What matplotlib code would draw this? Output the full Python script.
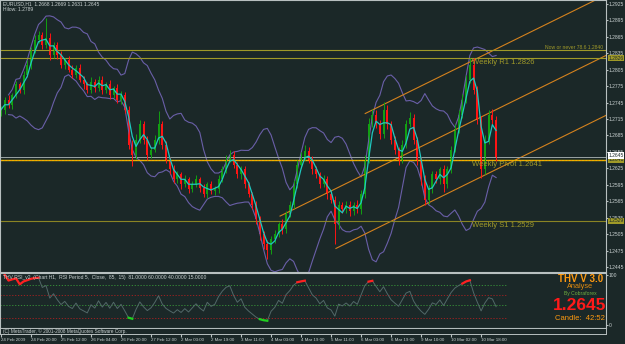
import numpy as np
import pandas as pd
import matplotlib
matplotlib.use("Agg")
import matplotlib.pyplot as plt

W, H = 625, 344

# EURUSD closes, 2-hour steps
closes = [1.2732, 1.2750, 1.2741, 1.2759, 1.2778, 1.2768, 1.2796, 1.2814, 1.2841, 1.2859,
          1.2868, 1.2850, 1.2863, 1.2832, 1.2850, 1.2832, 1.2814, 1.2823, 1.2805, 1.2796,
          1.2808, 1.2787, 1.2778, 1.2768, 1.2783, 1.2772, 1.2787, 1.2768, 1.2778, 1.2759,
          1.2772, 1.2750, 1.2759, 1.2732, 1.2668, 1.2650, 1.2677, 1.2705, 1.2677, 1.2650,
          1.2659, 1.2677, 1.2705, 1.2668, 1.2641, 1.2623, 1.2605, 1.2614, 1.2596, 1.2605,
          1.2587, 1.2596, 1.2605, 1.2590, 1.2578, 1.2596, 1.2583, 1.2587, 1.2605, 1.2623,
          1.2641, 1.2650, 1.2632, 1.2614, 1.2623, 1.2596, 1.2578, 1.2559, 1.2532, 1.2505,
          1.2487, 1.2477, 1.2496, 1.2505, 1.2523, 1.2514, 1.2541, 1.2559, 1.2596, 1.2632,
          1.2645, 1.2656, 1.2641, 1.2623, 1.2614, 1.2596, 1.2605, 1.2578, 1.2568, 1.2523,
          1.2559, 1.2550, 1.2559, 1.2547, 1.2559, 1.2550, 1.2578, 1.2641, 1.2705, 1.2723,
          1.2705, 1.2687, 1.2732, 1.2705, 1.2677, 1.2659, 1.2641, 1.2668, 1.2705, 1.2717,
          1.2677, 1.2641, 1.2605, 1.2568, 1.2587, 1.2614, 1.2605, 1.2623, 1.2596, 1.2623,
          1.2659, 1.2696, 1.2723, 1.2750, 1.2787, 1.2814, 1.2768, 1.2714, 1.2623, 1.2677,
          1.2723, 1.2714, 1.2645]
first_open = 1.2725

# wick lengths in pips
wick_up = [6, 5, 8, 4, 7, 5, 6, 8, 5, 9,
           7, 6, 37, 8, 6, 5, 7, 4, 6, 8,
           5, 7, 6, 4, 8, 5, 6, 7, 5, 8,
           4, 6, 7, 5, 6, 8, 10, 9, 6, 7,
           5, 8, 25, 6, 7, 5, 8, 6, 4, 7,
           5, 6, 8, 5, 7, 4, 6, 5, 7, 6,
           8, 9, 6, 5, 7, 6, 5, 4, 6, 7,
           5, 8, 6, 7, 5, 9, 6, 7, 8, 9,
           10, 12, 8, 6, 7, 5, 8, 6, 5, 7,
           6, 5, 7, 6, 5, 8, 7, 9, 12, 10,
           8, 9, 14, 8, 6, 7, 5, 8, 9, 11,
           7, 6, 5, 7, 8, 6, 7, 5, 8, 6,
           7, 9, 8, 10, 9, 12, 12, 8, 6, 9,
           8, 10, 7]
wick_dn = [5, 7, 6, 8, 5, 6, 7, 5, 8, 6,
           5, 7, 6, 9, 5, 8, 6, 7, 5, 6,
           7, 5, 8, 6, 5, 7, 6, 8, 5, 7,
           6, 5, 8, 6, 7, 20, 8, 6, 7, 9,
           6, 5, 7, 8, 6, 9, 7, 6, 8, 5,
           7, 6, 5, 8, 6, 7, 5, 6, 7, 5,
           6, 5, 7, 6, 8, 7, 6, 9, 8, 10,
           9, 17, 8, 7, 6, 8, 7, 5, 6, 7,
           6, 5, 7, 8, 6, 7, 5, 8, 6, 36,
           8, 7, 6, 9, 7, 6, 8, 7, 6, 5,
           7, 8, 6, 9, 7, 8, 10, 7, 6, 5,
           8, 9, 10, 9, 8, 7, 6, 9, 14, 7,
           6, 5, 7, 6, 5, 6, 8, 9, 15, 8,
           7, 9, 6]

time_labels = ["24 Feb 2009", "24 Feb 20:00", "25 Feb 12:00", "26 Feb 04:00", "26 Feb 20:00",
               "27 Feb 12:00", "2 Mar 03:00", "2 Mar 19:00", "3 Mar 11:00", "4 Mar 03:00",
               "4 Mar 19:00", "5 Mar 11:00", "6 Mar 03:00", "6 Mar 19:00", "9 Mar 10:00",
               "10 Mar 02:00", "10 Mar 18:00"]

level_names = ["Weekly R1", "Weekly Pivot", "Weekly S1"]
level_prices = [1.2826, 1.2641, 1.2529]
fib_price = 1.2840
last_price = 1.2645

# channel lines: start bar, start price, shared slope per bar
chan_start_bar = [97.1, 74.4, 89.3]
chan_start_price = [1.2725, 1.2538, 1.2479]
chan_slope = 0.000337

rsi_levels = [81, 60, 40, 15]
rsi_level_cols = ["#3a9a3a", "#b02020", "#3a9a3a", "#b02020"]

BG = "#1b2828"
FRAME = "#b8c0c0"
TXT = "#c8d0d0"
OLIVE = "#a09a28"
ORANGE = "#d4821e"


def px_rect(x0, y0, x1, y1):
    return [x0 / W, 1 - y1 / H, (x1 - x0) / W, (y1 - y0) / H]


n = len(closes)
x = np.arange(n)
c = np.array(closes)
o = np.array([first_open] + closes[:-1])
hi = np.maximum(o, c) + np.array(wick_up) * 0.0001
lo = np.minimum(o, c) - np.array(wick_dn) * 0.0001
cols = np.where(c >= o, "#12a012", "#ff1414")

s = pd.Series(closes)
ma = s.rolling(3, min_periods=1).mean()
mid = s.rolling(12, min_periods=3).mean()
sd = s.rolling(12, min_periods=3).std()
bb_up = mid + 2 * sd
bb_dn = mid - 2 * sd

d = s.diff()
gain = d.clip(lower=0).ewm(alpha=1 / 5, adjust=False).mean()
loss = (-d.clip(upper=0)).ewm(alpha=1 / 5, adjust=False).mean()
rsi = 100 - 100 / (1 + gain / loss)

fig = plt.figure(figsize=(W / 100, H / 100), dpi=100)
fig.patch.set_facecolor(BG)
plt.rcParams['font.family'] = ['Liberation Sans', 'DejaVu Sans']

XL = (-0.27, 161.3)

# ---- main price window
ax = fig.add_axes(px_rect(0, 0, 606, 272))
ax.set_facecolor(BG)
ax.set_xlim(*XL)
ax.set_ylim(1.2436, 1.2932)

ax.plot(x, bb_up, color="#6a5fa8", lw=0.8)
ax.plot(x, bb_dn, color="#6a5fa8", lw=0.8)

for i in range(3):
    xs = np.array([chan_start_bar[i], 162])
    ax.plot(xs, chan_start_price[i] + chan_slope * (xs - chan_start_bar[i]), color=ORANGE, lw=0.8)

ax.axhline(fib_price, color=OLIVE, lw=0.8)
ax.axhline(level_prices[0], color=OLIVE, lw=0.8)
ax.axhline(level_prices[2], color="#8a8424", lw=0.8)
ax.axhline(last_price, color="#9aa4a4", lw=0.7)
ax.axhline(level_prices[1], color="#e0c400", lw=1.0)
ax.axhline(level_prices[1], color="#ff8a00", lw=0.6, ls=(0, (2, 2)))

ax.vlines(x, lo, hi, colors=cols, lw=0.7)
ax.bar(x, np.maximum(np.abs(c - o), 0.00005), bottom=np.minimum(o, c), width=0.5, color=cols, lw=0)
ax.plot(x, ma, color="#20c8c0", lw=0.9)

for name, p in zip(level_names, level_prices):
    ax.text(125.5, p - 0.0002, f"{name} {p:.4f}", color=OLIVE, fontsize=5.5, va="top", ha="left")
ax.text(160.5, fib_price + 0.0001, f"Now or never 78.6 {fib_price:.4f}", color=OLIVE,
        fontsize=3.6, va="bottom", ha="right")

ax.text(0.005, 0.995, "EURUSD,H1  1.2668 1.2669 1.2631 1.2645", transform=ax.transAxes,
        color=TXT, fontsize=3.6, va="top", ha="left")
ax.text(0.005, 0.973, "Hilow: 1.2789", transform=ax.transAxes, color=TXT, fontsize=3.6,
        va="top", ha="left")

ax.set_xticks([])
ax.yaxis.tick_right()
ax.set_yticks(np.arange(1.2445, 1.2926, 0.0030))
ax.yaxis.set_major_formatter(plt.FuncFormatter(lambda v, p: f"{v:.4f}"))
ax.tick_params(axis="y", colors=FRAME, labelcolor=TXT, labelsize=3.6, length=1.5, pad=0.5)
for sp in ax.spines.values():
    sp.set_color(FRAME)
    sp.set_linewidth(0.8)

tr = ax.get_yaxis_transform()
for p in [level_prices[0], level_prices[1], level_prices[2]]:
    ax.text(1.004, p, f"{p:.4f}", transform=tr, fontsize=3.6, color="#1b2828", va="center",
            ha="left", bbox=dict(boxstyle="square,pad=0.15", fc=OLIVE, ec="none"), zorder=5)
ax.text(1.004, last_price + 0.0003, f"{last_price:.4f}", transform=tr, fontsize=3.6, color="#1b2828",
        va="center", ha="left", bbox=dict(boxstyle="square,pad=0.15", fc="white", ec="none"), zorder=6)

# ---- RSI window
ar = fig.add_axes(px_rect(0, 273, 606, 328))
ar.set_facecolor(BG)
ar.set_xlim(*XL)
ar.set_ylim(-6, 104)
for lv, lc in zip(rsi_levels, rsi_level_cols):
    ar.axhline(lv, xmax=135 / XL[1], color=lc, lw=0.6, ls=(0, (1.5, 2)))
ar.plot(x, rsi, color="#526868", lw=0.7)
ar.plot(x, rsi.where(rsi > rsi_levels[0]), color="#ff2020", lw=1.6)
ar.plot(x, rsi.where(rsi < rsi_levels[3]), color="#20d020", lw=1.6)
ar.text(0.005, 0.97, "THV RSI_v2  (Chart H1,  RSI Period 5,  Close,  85,  15)  81.0000 60.0000 40.0000 15.0000",
        transform=ar.transAxes, color=TXT, fontsize=3.6, va="top", ha="left")
ar.set_xticks([])
ar.yaxis.tick_right()
ar.set_yticks([0, 100])
ar.tick_params(axis="y", colors=FRAME, labelcolor=TXT, labelsize=3.6, length=1.5, pad=0.5)
for sp in ar.spines.values():
    sp.set_color(FRAME)
    sp.set_linewidth(0.8)

fig.text(581 / W, 1 - 279 / H, "THV V 3.0", color="#ff9a10", fontsize=7, fontweight="bold",
         ha="center", va="center")
fig.text(580 / W, 1 - 286 / H, "Analyse", color="#e08a10", fontsize=5.3, ha="center", va="center")
fig.text(580 / W, 1 - 294 / H, "By Cobraforex", color="#70b040", fontsize=3.6, ha="center", va="center")
fig.text(580 / W, 1 - 305 / H, f"{last_price:.4f}", color="#ff1a1a", fontsize=12.5, fontweight="bold",
         ha="center", va="center")
fig.text(580 / W, 1 - 318 / H, "Candle:  42:52", color="#ff9a10", fontsize=5.5, ha="center", va="center")

# ---- copyright strip + time axis
at = fig.add_axes(px_rect(0, 328, 606, 334))
at.set_facecolor(BG)
at.set_xlim(*XL)
at.set_yticks([])
at.set_xticks(np.arange(len(time_labels)) * 8)
at.set_xticklabels(time_labels, ha="left")
at.tick_params(axis="x", colors=FRAME, labelcolor=TXT, labelsize=3.2, length=2, pad=1)
at.text(0.005, 0.5, "(C) MetaTrader, \u00a9 2001-2008 MetaQuotes Software Corp.", transform=at.transAxes,
        color=TXT, fontsize=3.4, va="center", ha="left")
for sp in at.spines.values():
    sp.set_color(FRAME)
    sp.set_linewidth(0.7)

fig.savefig("out.png", dpi=100, facecolor=BG)
